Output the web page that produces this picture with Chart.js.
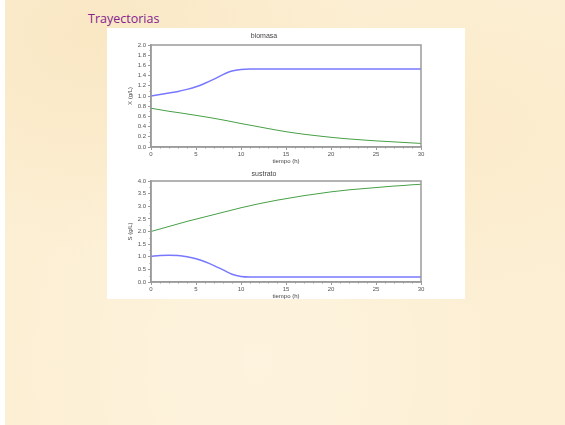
<!DOCTYPE html>
<html>
<head>
<meta charset="utf-8">
<script src="https://cdn.jsdelivr.net/npm/chart.js@4/dist/chart.umd.min.js"></script>
<style>
html, body { margin: 0; padding: 0; }
body {
  width: 565px; height: 425px; overflow: hidden; position: relative;
  background: #ffffff;
}
#slide {
  position: absolute; left: 5px; top: 0; width: 560px; height: 425px;
  background:
    radial-gradient(ellipse at 15% 8%, rgba(247,224,180,0.5), rgba(247,224,180,0) 40%),
    radial-gradient(ellipse at 80% 30%, rgba(249,228,186,0.35), rgba(249,228,186,0) 45%),
    radial-gradient(ellipse at 45% 85%, rgba(255,248,232,0.5), rgba(255,248,232,0) 55%),
    #fcefd4;
}
#title {
  position: absolute; left: 88px; top: 10px;
  font-family: "Open Sans", sans-serif; font-size: 12.5px; color: #85228f;
}
#box {
  position: absolute; left: 107px; top: 28px; width: 358px; height: 271px;
  background: #ffffff; overflow: hidden;
}
#box canvas { position: absolute; left: 0; }
</style>
</head>
<body>
<div id="slide"></div>
<div id="title">Trayectorias</div>
<div id="box">
  <canvas id="top" width="358" height="140" style="top:0"></canvas>
  <canvas id="bot" width="358" height="135" style="top:140px"></canvas>
</div>
<script>
// time axis (h)
const tiempo = [0,1,2,3,4,5,6,7,8,9,10,11,12,13,14,15,16,17,18,19,20,21,22,23,24,25,26,27,28,29,30];

// biomasa panel
const biomasaAzul = [1.00,1.03,1.06,1.09,1.13,1.18,1.25,1.33,1.42,1.49,1.52,1.53,1.53,1.53,1.53,1.53,1.53,1.53,1.53,1.53,1.53,1.53,1.53,1.53,1.53,1.53,1.53,1.53,1.53,1.53,1.53];
const biomasaVerde = [0.76,0.73,0.70,0.675,0.648,0.62,0.592,0.562,0.53,0.496,0.46,0.428,0.395,0.362,0.33,0.30,0.274,0.25,0.229,0.209,0.19,0.173,0.158,0.145,0.132,0.12,0.11,0.10,0.09,0.08,0.07];

// sustrato panel
const sustratoVerde = [2.00,2.10,2.20,2.30,2.40,2.49,2.58,2.67,2.76,2.85,2.94,3.02,3.10,3.17,3.24,3.30,3.36,3.42,3.47,3.52,3.57,3.61,3.65,3.68,3.71,3.74,3.77,3.80,3.82,3.85,3.87];
const sustratoAzul = [1.02,1.05,1.06,1.05,1.00,0.92,0.80,0.65,0.48,0.31,0.22,0.20,0.20,0.20,0.20,0.20,0.20,0.20,0.20,0.20,0.20,0.20,0.20,0.20,0.20,0.20,0.20,0.20,0.20,0.20,0.20];

const xTicks = [0,5,10,15,20,25,30];

const AXIS = '#9a9a9a';
const TXT = '#555555';
const FONT = 'Liberation Sans';

function pts(ys){
  return tiempo.map((t,i)=>({x:t,y:ys[i]}));
}

// frame around plot area + minor ticks, scilab style
const framePlugin = {
  id: 'frame',
  afterDraw(chart, args, opts){
    const ctx = chart.ctx, a = chart.chartArea;
    const xs = chart.scales.x, ys = chart.scales.y;
    ctx.save();
    ctx.strokeStyle = AXIS;
    ctx.lineWidth = 1;
    ctx.beginPath();
    for(let v=0; v<=30; v+=1){
      if(v%5===0) continue;
      const px = Math.round(xs.getPixelForValue(v))+0.5;
      ctx.moveTo(px, a.bottom); ctx.lineTo(px, a.bottom+1.5);
    }
    for(let v=ys.min+opts.minor; v<ys.max; v+=opts.minor*2){
      const py = Math.round(ys.getPixelForValue(v))+0.5;
      ctx.moveTo(a.left, py); ctx.lineTo(a.left-1.5, py);
    }
    ctx.stroke();
    ctx.lineWidth = 1.5;
    ctx.strokeRect(a.left, a.top, a.right-a.left, a.bottom-a.top);
    ctx.restore();
  }
};

function makeChart(id, title, yTitle, yMax, yStep, azul, verde, titlePad){
  return new Chart(document.getElementById(id), {
    type: 'line',
    data: {
      datasets: [
        {data: pts(azul), borderColor: 'rgb(120,120,255)', borderWidth: 1.5, pointRadius: 0, tension: 0.4, cubicInterpolationMode: 'monotone'},
        {data: pts(verde), borderColor: 'rgb(70,160,70)', borderWidth: 1, pointRadius: 0, tension: 0.4, cubicInterpolationMode: 'monotone'}
      ]
    },
    plugins: [framePlugin],
    options: {
      responsive: false,
      animation: false,
      devicePixelRatio: 1,
      layout: {padding: {left: 0, right: 44, top: 0, bottom: 0}},
      plugins: {
        legend: {display: false},
        tooltip: {enabled: false},
        title: {display: true, text: title, color: '#444', font: {family: FONT, size: 7, weight: 'normal'}, padding: titlePad},
        frame: {minor: yStep/2}
      },
      scales: {
        x: {
          type: 'linear', min: 0, max: 30,
          afterBuildTicks: s => { s.ticks = xTicks.map(v=>({value:v})); },
          afterFit: s => { s.height = 21; },
          grid: {drawOnChartArea: false, drawTicks: true, tickLength: 3, color: AXIS},
          border: {color: AXIS, width: 1.5},
          ticks: {color: TXT, font: {family: FONT, size: 6}, padding: 1, maxRotation: 0},
          title: {display: true, text: 'tiempo (h)', color: '#444', font: {family: FONT, size: 6}, padding: {top: 0, bottom: 3}}
        },
        y: {
          min: 0, max: yMax,
          afterFit: s => { s.width = 44; },
          grid: {drawOnChartArea: false, drawTicks: true, tickLength: 3, color: AXIS},
          border: {color: AXIS, width: 1.5},
          ticks: {stepSize: yStep, color: TXT, font: {family: FONT, size: 6}, padding: 2, callback: v => v.toFixed(1)},
          title: {display: true, text: yTitle, color: '#444', font: {family: FONT, size: 6}, padding: {top: 20, bottom: 0}}
        }
      }
    }
  });
}

makeChart('top', 'biomasa', 'X (g/L)', 2.0, 0.2, biomasaAzul, biomasaVerde, {top: 4, bottom: 4.6});
makeChart('bot', 'sustrato', 'S (g/L)', 4.0, 0.5, sustratoAzul, sustratoVerde, {top: 2, bottom: 2.6});
</script>
</body>
</html>
